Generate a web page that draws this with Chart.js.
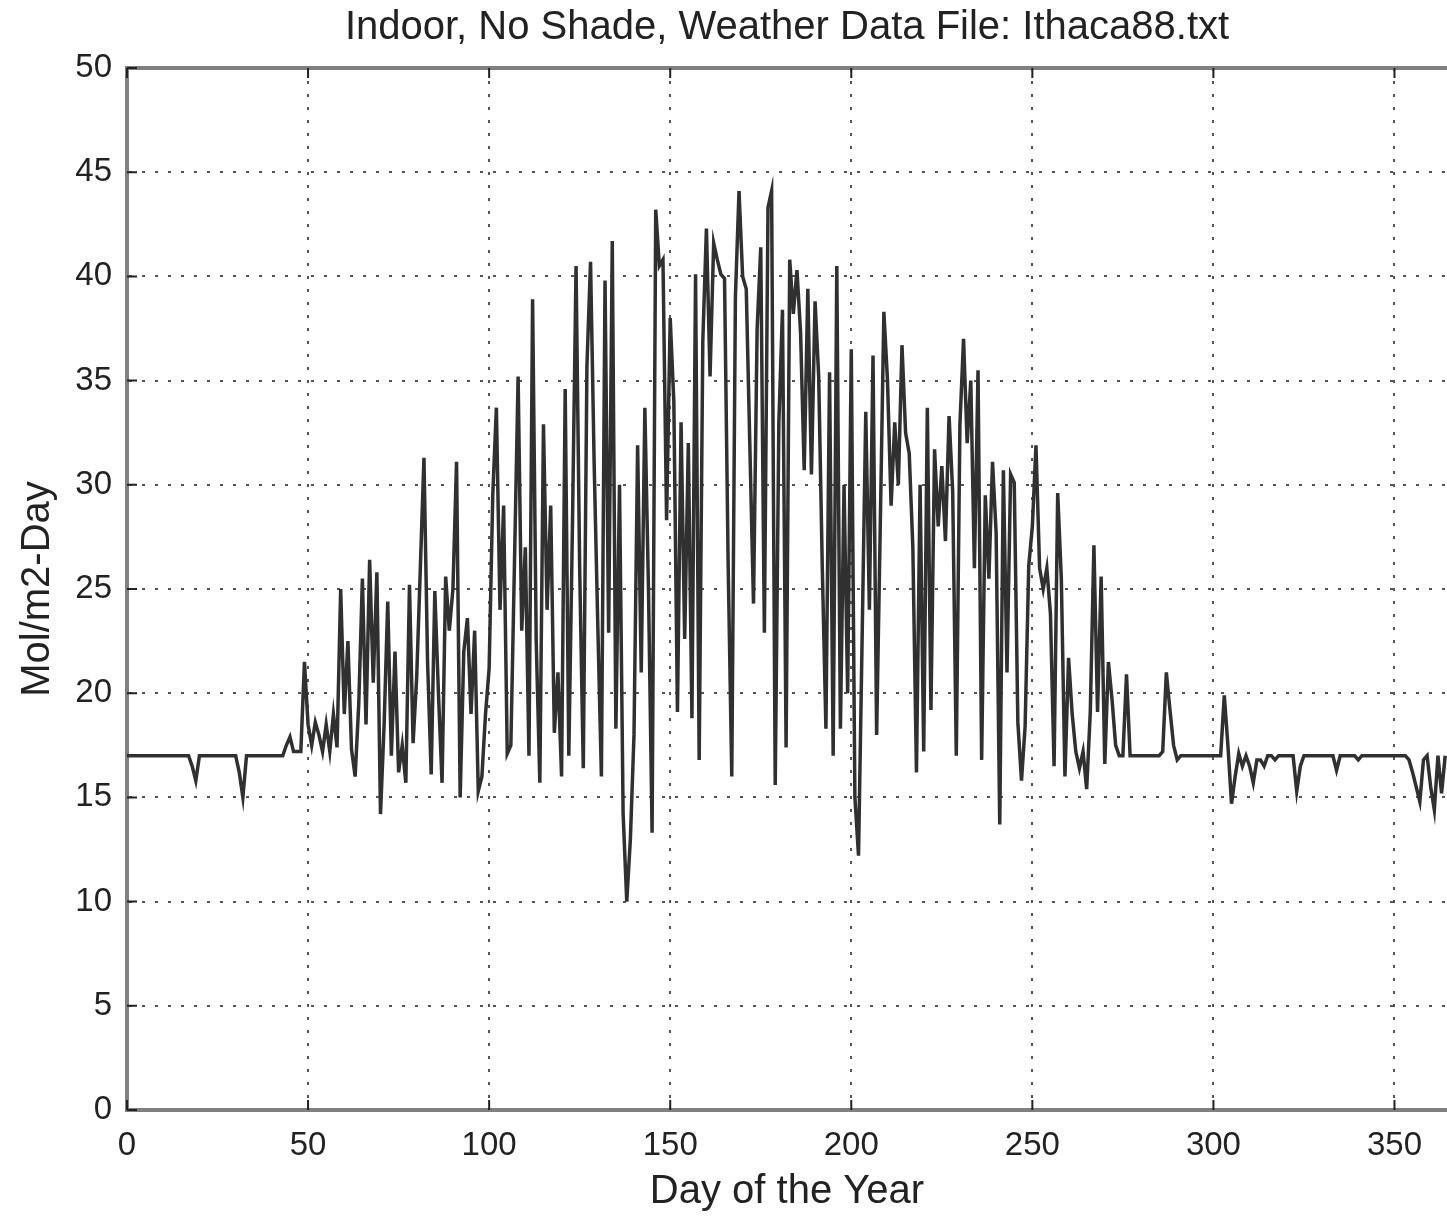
<!DOCTYPE html>
<html lang="en">
<head>
  <meta charset="UTF-8">
  <title>Indoor, No Shade</title>
  <script src="https://cdn.jsdelivr.net/npm/chart.js"></script>
  <style>
    body { margin: 0; background: #fff; }
  </style>
</head>
<body>
  <canvas id="lightChart" width="1447" height="1216"></canvas>

  <script>
    // daily light integral, one value per day
    const daysJanMar = [
      17, 17, 17, 17, 17, 17, 17, 17, 17, 17,
      17, 17, 17, 17, 17, 17, 17, 17, 16.5, 15.8,
      17, 17, 17, 17, 17, 17, 17, 17, 17, 17,
      17, 16.2, 15.0, 17, 17, 17, 17, 17, 17, 17,
      17, 17, 17, 17, 17.5, 17.9, 17.2, 17.2, 17.2, 21.5,
      18.5, 17.5, 18.6, 18.0, 17.2, 18.5, 17.2, 19.0, 17.4, 25.0,
      19.0, 22.5, 17.3, 16.0, 19.5, 25.5, 18.5, 26.4, 20.5, 25.8,
      14.2, 18.5, 24.4, 17.0, 22.0, 16.2, 17.5, 15.7, 25.2, 17.6,
      20.8, 26.0, 31.3, 21.5, 16.1, 24.9, 20.0, 15.7, 25.6, 23.0
    ];
    const daysAprJun = [
      25.0, 31.1, 15.0, 22.0, 23.6, 19.0, 23.0, 15.3, 16.0, 19.0,
      21.2, 29.5, 33.7, 24.0, 29.0, 17.1, 17.5, 26.3, 35.2, 23.0,
      27.0, 17.0, 38.9, 22.5, 15.7, 32.9, 24.0, 29.0, 18.1, 21.0,
      16.0, 34.6, 17.0, 28.0, 40.5, 26.0, 16.4, 35.7, 40.7, 31.0,
      23.3, 16.0, 39.8, 22.9, 41.7, 18.3, 30.0, 14.2, 10.0, 13.0,
      18.0, 31.9, 21.0, 33.7, 25.0, 13.3, 43.2, 40.5, 40.8, 28.3,
      38.0, 34.0, 19.1, 33.0, 22.6, 32.0, 18.8, 40.1, 16.8, 36.9,
      42.3, 35.2, 41.6, 40.8, 40.1, 39.9, 26.2, 16.0, 39.0, 44.1,
      40.0, 39.4, 31.8, 24.3, 37.5, 41.4, 22.9, 43.3, 44.1, 15.6
    ];
    const daysJulSep = [
      33.0, 38.4, 17.4, 40.8, 38.2, 40.3, 37.3, 30.7, 39.4, 30.5,
      38.8, 35.2, 26.0, 18.3, 35.4, 17.0, 40.5, 18.3, 30.0, 20.0,
      36.5, 15.0, 12.2, 22.7, 33.5, 24.0, 36.2, 18.0, 28.0, 38.3,
      35.0, 29.0, 33.0, 30.0, 36.7, 32.5, 31.5, 27.0, 16.2, 30.0,
      17.2, 33.7, 19.2, 31.7, 28.0, 30.9, 27.3, 33.3, 29.7, 17.0,
      32.9, 37.0, 32.0, 35.0, 26.0, 35.5, 16.8, 29.5, 25.5, 31.1,
      27.7, 13.7, 30.7, 21.0, 30.5, 30.1, 18.6, 15.8, 18.4, 26.1,
      28.0, 31.9, 26.0, 25.0, 26.0, 23.8, 16.5, 29.6, 25.5, 16.0,
      21.7, 19.0, 17.2, 16.4, 17.2, 15.4, 19.1, 27.1, 19.1, 25.6
    ];
    const daysOctDec = [
      16.6, 21.5, 19.7, 17.5, 17.0, 17.0, 20.9, 17.0, 17.0, 17.0,
      17, 17, 17, 17, 17, 17, 17.2, 21.0, 19.2, 17.5,
      16.8, 17, 17, 17, 17, 17, 17, 17, 17, 17,
      17, 17, 17, 19.9, 17.5, 14.7, 16.0, 17.1, 16.5, 17.0,
      16.5, 15.7, 16.8, 16.8, 16.5, 17, 17, 16.8, 17, 17,
      17, 17, 17, 15.3, 16.5, 17, 17, 17, 17, 17,
      17, 17, 17, 17, 16.3, 17, 17, 17, 17, 17,
      16.8, 17, 17, 17, 17, 17, 17, 17, 17, 17,
      17, 17, 17, 17, 16.8, 16.2, 15.5, 14.8, 16.8, 17,
      15.5, 14.4, 17, 15.2, 17
    ];
    const dayTicks = [0, 50, 100, 150, 200, 250, 300, 350];
    const valueTicks = [0, 5, 10, 15, 20, 25, 30, 35, 40, 45, 50];

    const values = [...daysJanMar, ...daysAprJun, ...daysJulSep, ...daysOctDec];
    const points = values.map((v, i) => ({ x: i, y: v }));

    const textColor = '#222';
    const fontFamily = "'Liberation Sans', Arial, sans-serif";

    // matlab style box: top edge and short inward ticks
    const boxPlugin = {
      id: 'box',
      afterDraw(chart) {
        const { ctx, chartArea: a, scales } = chart;
        ctx.save();
        ctx.strokeStyle = '#808080';
        ctx.lineWidth = 4;
        ctx.beginPath();
        ctx.moveTo(a.left, a.top);
        ctx.lineTo(a.right, a.top);
        ctx.stroke();
        ctx.strokeStyle = '#222';
        ctx.lineWidth = 2;
        ctx.beginPath();
        dayTicks.forEach(d => {
          const px = scales.x.getPixelForValue(d);
          ctx.moveTo(px, a.bottom);
          ctx.lineTo(px, a.bottom - 10);
          ctx.moveTo(px, a.top);
          ctx.lineTo(px, a.top + 10);
        });
        valueTicks.forEach(v => {
          const py = scales.y.getPixelForValue(v);
          ctx.moveTo(a.left, py);
          ctx.lineTo(a.left + 10, py);
        });
        ctx.stroke();
        ctx.restore();
      }
    };

    new Chart(document.getElementById('lightChart'), {
      type: 'line',
      data: {
        datasets: [{
          data: points,
          borderColor: '#303030',
          borderWidth: 3.5,
          pointRadius: 0,
          tension: 0
        }]
      },
      options: {
        responsive: false,
        animation: false,
        layout: { padding: 0 },
        plugins: {
          legend: { display: false },
          tooltip: { enabled: false },
          title: {
            display: true,
            text: 'Indoor, No Shade, Weather Data File: Ithaca88.txt',
            color: textColor,
            fullSize: false,
            font: { family: fontFamily, size: 40, weight: 'normal' },
            padding: { top: 4, bottom: 16 }
          }
        },
        scales: {
          x: {
            type: 'linear',
            min: 0,
            max: 364.5,
            afterFit(scale) { scale.height = 106; },
            afterBuildTicks(scale) { scale.ticks = dayTicks.map(v => ({ value: v })); },
            ticks: {
              autoSkip: false,
              maxRotation: 0,
              padding: 16,
              color: textColor,
              font: { family: fontFamily, size: 33 }
            },
            grid: { color: '#555', lineWidth: 2, drawTicks: false },
            border: { display: true, color: '#808080', width: 4, dash: [3, 10] },
            title: {
              display: true,
              text: 'Day of the Year',
              color: textColor,
              font: { family: fontFamily, size: 40 },
              padding: { top: 0, bottom: 0 }
            }
          },
          y: {
            min: 0,
            max: 50,
            afterFit(scale) { scale.width = 127; },
            afterBuildTicks(scale) { scale.ticks = valueTicks.map(v => ({ value: v })); },
            ticks: {
              padding: 15,
              color: textColor,
              font: { family: fontFamily, size: 33 }
            },
            grid: { color: '#555', lineWidth: 2, drawTicks: false },
            border: { display: true, color: '#808080', width: 4, dash: [3, 10] },
            title: {
              display: true,
              text: 'Mol/m2-Day',
              color: textColor,
              font: { family: fontFamily, size: 40 },
              padding: { top: 14, bottom: 0 }
            }
          }
        }
      },
      plugins: [boxPlugin]
    });
  </script>
</body>
</html>
